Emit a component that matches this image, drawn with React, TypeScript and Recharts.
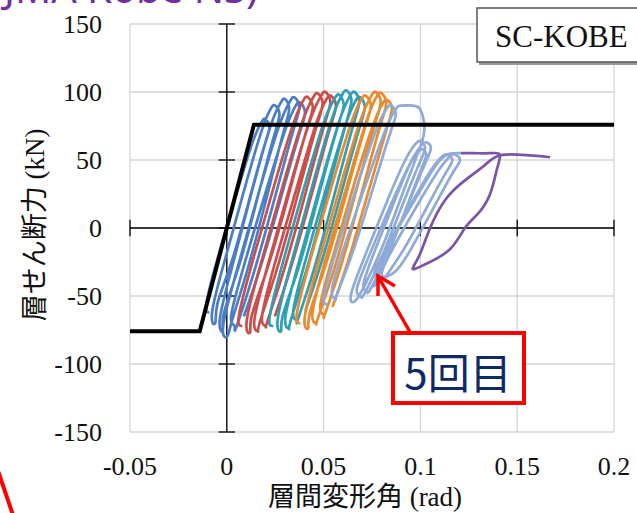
import { CartesianGrid, Line, LineChart, ReferenceLine, XAxis, YAxis } from "recharts"

type Pt = [number, number]

const xTicks = [-0.05, 0, 0.05, 0.1, 0.15, 0.2]
const yTicks = [-150, -100, -50, 0, 50, 100, 150]

// bilinear skeleton curve
const skeleton: Pt[] = [[-0.05, -76], [-0.014, -76], [0.014, 76], [0.2, 76]]

// hysteresis loops (rad, kN)
const blueLoops: Pt[] = [
  [-0.009, -62], [-0.0105, -55], [-0.0041, -19], [0.0046, 23], [0.0133, 63], [0.018, 78],
  [0.02, 80], [0.022, 74], [0.0191, 59], [0.0107, 16], [0.002, -27], [-0.0049, -56],
  [-0.006, -70], [-0.0076, -62], [-0.0007, -22], [0.0086, 26], [0.0179, 71], [0.0228, 88],
  [0.025, 90], [0.0272, 84], [0.0241, 66], [0.0151, 18], [0.0058, -30], [-0.0017, -64],
  [-0.002, -76], [-0.0036, -67], [0.0034, -25], [0.013, 27], [0.0226, 75], [0.0278, 92],
  [0.03, 95], [0.0322, 88], [0.029, 69], [0.0198, 18], [0.0102, -33], [0.0025, -69],
  [0.0, -80], [-0.0018, -71], [0.006, -27], [0.0165, 26], [0.027, 75], [0.0326, 93],
  [0.035, 96], [0.0375, 89], [0.034, 70], [0.0238, 17], [0.0133, -36], [0.0049, -73],
  [0.004, -72], [0.0023, -64], [0.0098, -23], [0.02, 26], [0.0302, 72], [0.0356, 90],
  [0.038, 92], [0.0404, 85], [0.037, 67], [0.0271, 18], [0.0169, -31], [0.0088, -65],
]

const redLoops: Pt[] = [
  [0.008, -72], [0.0063, -64], [0.0138, -22], [0.024, 29], [0.0342, 76], [0.0396, 94],
  [0.042, 96], [0.0444, 89], [0.041, 71], [0.0311, 20], [0.0209, -30], [0.0128, -65],
  [0.012, -77], [0.0103, -68], [0.018, -24], [0.0285, 29], [0.039, 78], [0.0446, 96],
  [0.047, 99], [0.0495, 92], [0.046, 73], [0.0358, 20], [0.0253, -33], [0.0169, -70],
  [0.016, -76], [0.0143, -67], [0.022, -23], [0.0325, 30], [0.043, 79], [0.0486, 97],
  [0.051, 100], [0.0535, 93], [0.05, 74], [0.0398, 21], [0.0293, -32], [0.0209, -69],
  [0.02, -72], [0.0183, -64], [0.0258, -21], [0.036, 29], [0.0462, 77], [0.0516, 95],
  [0.054, 97], [0.0564, 90], [0.053, 72], [0.0431, 21], [0.0329, -30], [0.0248, -65],
]

const tealLoops: Pt[] = [
  [0.024, -72], [0.0223, -64], [0.0298, -21], [0.04, 30], [0.0502, 78], [0.0556, 95],
  [0.058, 98], [0.0604, 91], [0.057, 73], [0.0471, 22], [0.0369, -30], [0.0288, -65],
  [0.028, -76], [0.0263, -67], [0.0338, -23], [0.044, 30], [0.0542, 80], [0.0596, 98],
  [0.062, 101], [0.0644, 94], [0.061, 74], [0.0511, 21], [0.0409, -32], [0.0328, -69],
  [0.032, -74], [0.0303, -65], [0.0378, -22], [0.048, 30], [0.0582, 79], [0.0636, 97],
  [0.066, 100], [0.0684, 93], [0.065, 74], [0.0551, 22], [0.0449, -31], [0.0368, -67],
  [0.036, -68], [0.0344, -60], [0.0416, -19], [0.0515, 30], [0.0614, 76], [0.0667, 94],
  [0.069, 96], [0.0713, 89], [0.068, 71], [0.0584, 22], [0.0485, -27], [0.0406, -61],
]

const orangeLoops: Pt[] = [
  [0.038, -70], [0.0363, -62], [0.0438, -20], [0.054, 30], [0.0642, 77], [0.0696, 95],
  [0.072, 97], [0.0744, 90], [0.071, 72], [0.0611, 22], [0.0509, -28], [0.0428, -63],
  [0.042, -74], [0.0403, -65], [0.048, -22], [0.0585, 30], [0.069, 79], [0.0746, 97],
  [0.077, 100], [0.0795, 93], [0.076, 74], [0.0658, 22], [0.0553, -31], [0.0469, -67],
  [0.046, -70], [0.0443, -62], [0.0518, -19], [0.062, 31], [0.0722, 79], [0.0776, 97],
  [0.08, 99], [0.0824, 92], [0.079, 74], [0.0691, 23], [0.0589, -28], [0.0508, -63],
  [0.05, -64], [0.0484, -56], [0.0556, -17], [0.0655, 31], [0.0754, 75], [0.0807, 92],
  [0.083, 94], [0.0853, 88], [0.082, 70], [0.0724, 23], [0.0625, -25], [0.0546, -58],
]

const lightBlueLoops: Pt[] = [
  [0.052, -56], [0.0504, -49], [0.0576, -12], [0.0675, 32], [0.0774, 73], [0.0827, 88],
  [0.085, 90], [0.0873, 84], [0.084, 68], [0.0744, 24], [0.0645, -20], [0.0566, -50],
  [0.056, -52], [0.0543, -45], [0.0618, -9], [0.072, 33], [0.0822, 73], [0.0876, 88],
  [0.09, 90], [0.096, 90], [0.1, 87], [0.102, 76], [0.1005, 62], [0.092, 30], [0.082, -8], [0.072, -40],
  [0.066, -54], [0.0643, -48], [0.0718, -19], [0.082, 17], [0.0922, 50], [0.0976, 62],
  [0.1, 64], [0.1024, 59], [0.099, 46], [0.0891, 11], [0.0789, -25], [0.0708, -49],
  [0.069, -50], [0.0673, -44], [0.0748, -16], [0.085, 18], [0.0952, 49], [0.1006, 61],
  [0.103, 63], [0.1054, 59], [0.102, 46], [0.0921, 12], [0.0819, -22], [0.0738, -46],
  [0.072, -46], [0.0706, -41], [0.0769, -15], [0.0856, 16], [0.0943, 46], [0.099, 56],
  [0.101, 58], [0.103, 54], [0.1001, 42], [0.0917, 11], [0.083, -20], [0.0761, -42],
  [0.078, -38], [0.0762, -33], [0.0841, -10], [0.0949, 17], [0.1057, 43], [0.1115, 53],
  [0.114, 54], [0.1165, 50], [0.1129, 40], [0.1025, 13], [0.0917, -15], [0.083, -34],
  [0.082, -36], [0.0802, -32], [0.0881, -9], [0.0989, 18], [0.1097, 43], [0.1155, 53],
  [0.118, 54], [0.1205, 50], [0.1169, 41], [0.1065, 14], [0.0957, -14], [0.087, -32],
  [0.079, -37], [0.0775, -32], [0.085, -9], [0.096, 18], [0.107, 44], [0.114, 54], [0.121, 55],
]

const purpleLoop: Pt[] = [
  [0.121, 55], [0.128, 55], [0.136, 55], [0.141, 54], [0.1395, 43], [0.136, 25], [0.13, 11], [0.123, 0],
  [0.115, -16], [0.102, -27], [0.096, -30], [0.0995, -20], [0.105, 0], [0.113, 21], [0.123, 35], [0.133, 46],
  [0.14, 53], [0.15, 54], [0.16, 53], [0.167, 52],
]

const toRows = (pts: Pt[]) => pts.map(([x, y]) => ({ x, y }))

const loops = [
  { key: "blue", pts: blueLoops, color: "#4a7ec6" },
  { key: "red", pts: redLoops, color: "#cc4e4a" },
  { key: "teal", pts: tealLoops, color: "#2f9fb4" },
  { key: "orange", pts: orangeLoops, color: "#ea8a2c" },
  { key: "lightblue", pts: lightBlueLoops, color: "#8eaad6" },
  { key: "purple", pts: purpleLoop, color: "#7b55a5" },
]

const serif = "'Liberation Serif', 'Noto Sans CJK JP', serif"

export default function App() {
  return (
    <div
      style={{
        position: "fixed",
        left: 0,
        top: 0,
        width: 637,
        height: 513,
        background: "#fff",
        overflow: "hidden",
      }}
    >
      <LineChart width={637} height={513} margin={{ top: 24, right: 23, bottom: 31, left: 0 }}>
        <CartesianGrid stroke="#d6d6d6" strokeWidth={1.3} />
        <XAxis
          type="number"
          dataKey="x"
          domain={[-0.05, 0.2]}
          ticks={xTicks}
          allowDataOverflow
          height={50}
          axisLine={false}
          tickLine={false}
          tickSize={0}
          tickMargin={25}
          tick={{ fontFamily: serif, fontSize: 26, fill: "#111" }}
        />
        <YAxis
          type="number"
          dataKey="y"
          domain={[-150, 150]}
          ticks={yTicks}
          allowDataOverflow
          width={130}
          axisLine={false}
          tickLine={false}
          tickSize={0}
          tickMargin={28}
          tick={{ fontFamily: serif, fontSize: 26, fill: "#111" }}
        />
        <ReferenceLine x={0} stroke="#000" strokeWidth={1.3} />
        <ReferenceLine y={0} stroke="#000" strokeWidth={1.3} />
        {yTicks.map((v) => (
          <ReferenceLine
            key={"yt" + v}
            segment={[{ x: -0.0042, y: v }, { x: 0.0042, y: v }]}
            stroke="#000"
            strokeWidth={1.3}
          />
        ))}
        {xTicks.map((v) => (
          <ReferenceLine
            key={"xt" + v}
            segment={[{ x: v, y: -6 }, { x: v, y: 6 }]}
            stroke="#000"
            strokeWidth={1.3}
          />
        ))}
        {loops.map((s) => (
          <Line
            key={s.key}
            data={toRows(s.pts)}
            dataKey="y"
            type="natural"
            stroke={s.color}
            strokeWidth={2.7}
            dot={false}
            activeDot={false}
            isAnimationActive={false}
          />
        ))}
        <Line
          data={toRows(skeleton)}
          dataKey="y"
          type="linear"
          stroke="#000"
          strokeWidth={4}
          dot={false}
          activeDot={false}
          isAnimationActive={false}
        />
      </LineChart>

      <svg
        width={637}
        height={513}
        style={{ position: "absolute", left: 0, top: 0, pointerEvents: "none" }}
      >
        <text
          x={258}
          y={3}
          textAnchor="end"
          fontFamily="'Noto Sans', sans-serif"
          fontSize={40}
          fill="#7030a0"
        >
          (JMA Kobe NS)
        </text>

        <text
          x={35}
          y={225}
          transform="rotate(-90 35 225)"
          textAnchor="middle"
          dominantBaseline="central"
          fontFamily={serif}
          fontSize={27}
          fill="#111"
        >
          層せん断力 (kN)
        </text>
        <text
          x={365}
          y={506}
          textAnchor="middle"
          fontFamily={serif}
          fontSize={27}
          fill="#111"
        >
          層間変形角 (rad)
        </text>

        <rect x={479} y={10} width={180} height={55} fill="#9a9a9a" />
        <rect x={477} y={8} width={180} height={54} fill="#fff" stroke="#555" strokeWidth={1.5} />
        <text x={495} y={47} fontFamily={serif} fontSize={31} fill="#111">
          SC-KOBE
        </text>

        <line x1={410} y1={332} x2={379} y2={278} stroke="#ff0000" strokeWidth={3.5} />
        <polyline
          points="378,296 378,276 395,286"
          fill="none"
          stroke="#ff0000"
          strokeWidth={3.5}
          strokeLinejoin="miter"
        />
        <rect x={393} y={333} width={131} height={70} fill="#fff" stroke="#ff0000" strokeWidth={4} />
        <text
          x={458}
          y={370}
          textAnchor="middle"
          dominantBaseline="central"
          fontFamily="'Noto Sans CJK JP', sans-serif"
          fontSize={42}
          fill="#0c2a66"
        >
          5回目
        </text>

        <line x1={-3} y1={468} x2={14} y2={518} stroke="#ff0000" strokeWidth={4} />
      </svg>
    </div>
  )
}
